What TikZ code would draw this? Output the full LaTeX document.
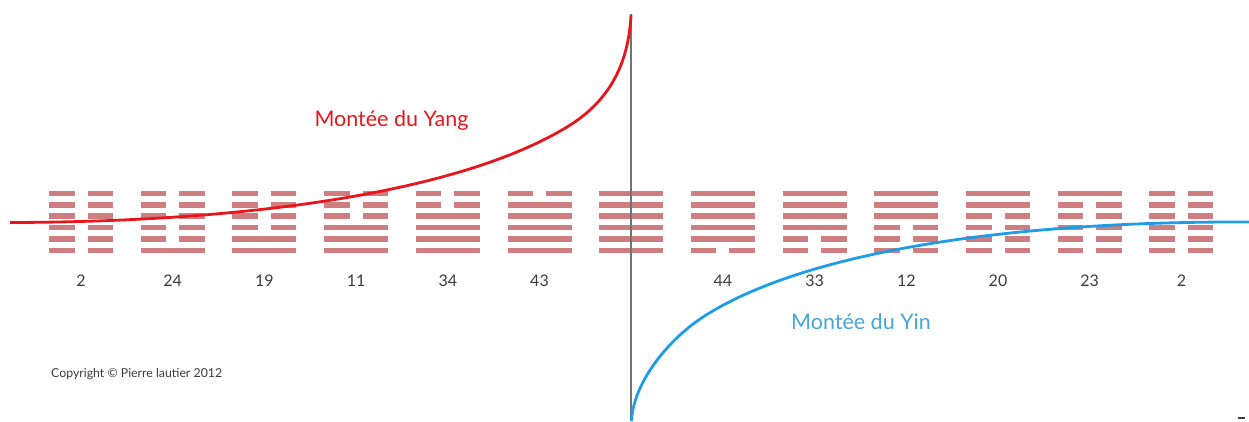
\documentclass[tikz,border=0pt]{standalone}
\usepackage{fontspec}
\setmainfont{Lato}
\definecolor{hexcol}{RGB}{206,126,128}
\definecolor{yangred}{RGB}{232,22,28}
\definecolor{yintext}{RGB}{70,166,216}
\definecolor{yinblue}{RGB}{30,156,230}
\definecolor{axisgray}{RGB}{115,115,115}
\definecolor{numgray}{RGB}{60,60,60}
\begin{document}
\begin{tikzpicture}[x=1pt,y=-1pt,
  hexbar/.style={fill=hexcol},
  numlabel/.style={font=\fontsize{16}{16}\selectfont, text=numgray, inner sep=0pt},
  yangtext/.style={font=\fontsize{21.5}{21.5}\selectfont, text=yangred, inner sep=0pt},
  yintext/.style={font=\fontsize{21.5}{21.5}\selectfont, text=yintext, inner sep=0pt},
  copytext/.style={font=\fontsize{12.3}{12.3}\selectfont, text=numgray, inner sep=0pt, anchor=west},
  axisline/.style={draw=axisgray, line width=2.2pt},
  yangcurve/.style={draw=yangred, line width=2.8pt},
  yincurve/.style={draw=yinblue, line width=2.8pt}]
\fill[white] (0,0) rectangle (1249,421);
\useasboundingbox (0,0) rectangle (1249,421);
% hexagrams
\foreach \i in {0,...,12}{
  \pgfmathsetmacro\xa{49+91.7*\i}
  \foreach \k in {0,...,5}{
    \pgfmathsetmacro\yc{193.4+11.4*\k}
    \pgfmathtruncatemacro\brk{(\i<7)*(\k<6-\i)+(\i>6)*(\k>11-\i)}
    \ifnum\brk=1
      \fill[hexbar] (\xa,\yc-2.75) rectangle (\xa+25.5,\yc+2.75);
      \fill[hexbar] (\xa+38.5,\yc-2.75) rectangle (\xa+64,\yc+2.75);
    \else
      \fill[hexbar] (\xa,\yc-2.75) rectangle (\xa+64,\yc+2.75);
    \fi
  }
}
% numbers
\foreach \i/\t in {0/2,1/24,2/19,3/11,4/34,5/43,7/44,8/33,9/12,10/20,11/23,12/2}{
  \node[numlabel] (n\i) at ({81+91.7*\i},281) {\t};
}
% axis
\coordinate (axtop) at (631,14);
\coordinate (axbot) at (631,421);
\draw[axisline] (axtop) -- (axbot);
% curves
\coordinate (ya) at (10,222.5);
\coordinate (yb) at (567,127);
\draw[yangcurve] (ya) .. controls (250,222) and (460,192) .. (yb)
  .. controls (600,107) and (628,75) .. (631,15);
\coordinate (yia) at (631.5,421);
\coordinate (yib) at (703,317);
\coordinate (yic) at (1249,222);
\draw[yincurve] (yia) .. controls (633,385) and (665,342) .. (yib)
  .. controls (800,254) and (1000,221) .. (yic);
% texts
\node[yangtext] (yang) at (391.5,121) {Montée du Yang};
\node[yintext] (yin) at (861,322) {Montée du Yin};
\node[copytext] (copy) at (51,374) {Copyright © Pierre lautier 2012};
\fill[numgray] (1238,417) rectangle (1245,419);
\end{tikzpicture}
\end{document}
